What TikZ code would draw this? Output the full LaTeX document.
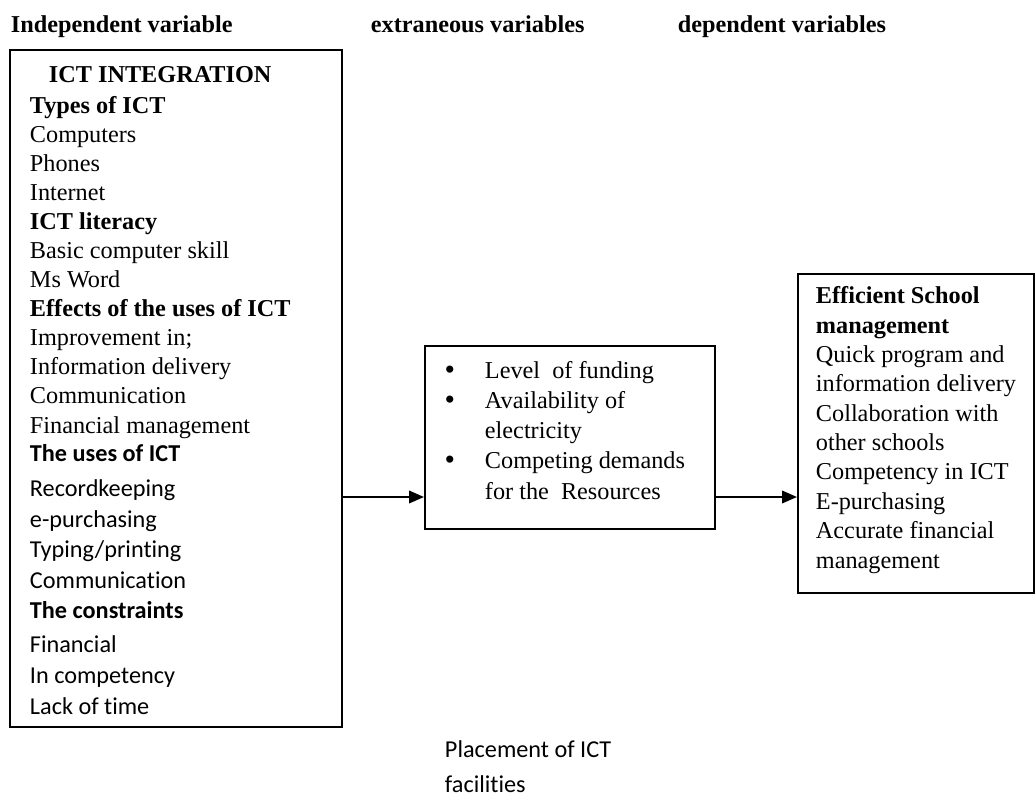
\documentclass[tikz,border=0pt]{standalone}
\usepackage{fontspec}
\setmainfont{Liberation Serif}
\newfontfamily\calibri[Ligatures=NoCommon]{Carlito}
\usetikzlibrary{arrows.meta}
\newcommand\extbullet{\llap{\raisebox{-0.6pt}{\fontsize{17}{17}\selectfont\textbullet}\hspace{17pt}}}
\begin{document}
\begin{tikzpicture}[x=0.02cm, y=-0.02cm, line width=1.1pt,
  var box/.style={rectangle, draw=black, inner sep=0pt},
  tnr text/.style={font=\fontsize{13.8}{16.6}\selectfont, align=left, inner sep=0pt, anchor=base west},
  cal text/.style={font=\calibri\fontsize{13.8}{17.4}\selectfont, align=left, inner sep=0pt, anchor=base west},
  flow/.style={-{Triangle[length=8.5pt,width=7pt]}, line width=1.4pt}]%
\useasboundingbox (0,0) rectangle (1036,798);
\begin{scope}[every node/.style={font=\bfseries\fontsize{13.8}{16.6}\selectfont, anchor=base west, inner sep=0pt}]
\node (hind) at (10,32) {Independent variable};
\node (hext) at (370,32) {extraneous variables};
\node (hdep) at (677,32) {dependent variables};
\end{scope}
\node[var box, minimum width=6.64cm, minimum height=13.54cm] (ind) at (176,388.5) {};
\node[var box, minimum width=5.8cm, minimum height=3.66cm] (ext) at (570,437.5) {};
\node[var box, minimum width=4.72cm, minimum height=6.38cm] (dep) at (916,433.5) {};
% independent (base = last line)
\node[tnr text, font=\bfseries\fontsize{13.8}{16.6}\selectfont] (indtitle) at (48,82) {ICT INTEGRATION};
\node[tnr text, font=\fontsize{13.8}{16.55}\selectfont] (indtnr) at (29,433) {\textbf{Types of ICT}\\Computers\\Phones\\Internet\\
  \textbf{ICT literacy}\\Basic computer skill\\Ms Word\\\textbf{Effects of the uses of ICT}\\
  Improvement in;\\Information delivery\\Communication\\Financial management};
\node[cal text] (indcal) at (29,714) {\textbf{The uses of ICT}\\[2.6pt]Recordkeeping\\e-purchasing\\Typing/printing\\
  Communication\\\textbf{The constraints}\\[2pt]Financial\\In competency\\Lack of time};
% extraneous
\node[tnr text, font=\fontsize{13.8}{17.2}\selectfont] (exttxt) at (484,499) {\extbullet Level\ \ of funding\\
  \extbullet Availability of\\electricity\\
  \extbullet Competing demands\\for the\ \ Resources};
% dependent
\node[tnr text, font=\fontsize{13.8}{16.7}\selectfont] (deptxt) at (815,568) {\textbf{Efficient School}\\\textbf{management}\\
  Quick program and\\information delivery\\Collaboration with\\other schools\\Competency in ICT\\
  E-purchasing\\Accurate financial\\management};
\node[cal text, font=\calibri\fontsize{13.8}{19.9}\selectfont] (place) at (444,792) {Placement of ICT\\facilities};
\coordinate (flowrow) at (0,497);
\draw[flow] (ind.east |- flowrow) -- (ext.west |- flowrow);
\draw[flow] (ext.east |- flowrow) -- (dep.west |- flowrow);
\end{tikzpicture}
\end{document}
